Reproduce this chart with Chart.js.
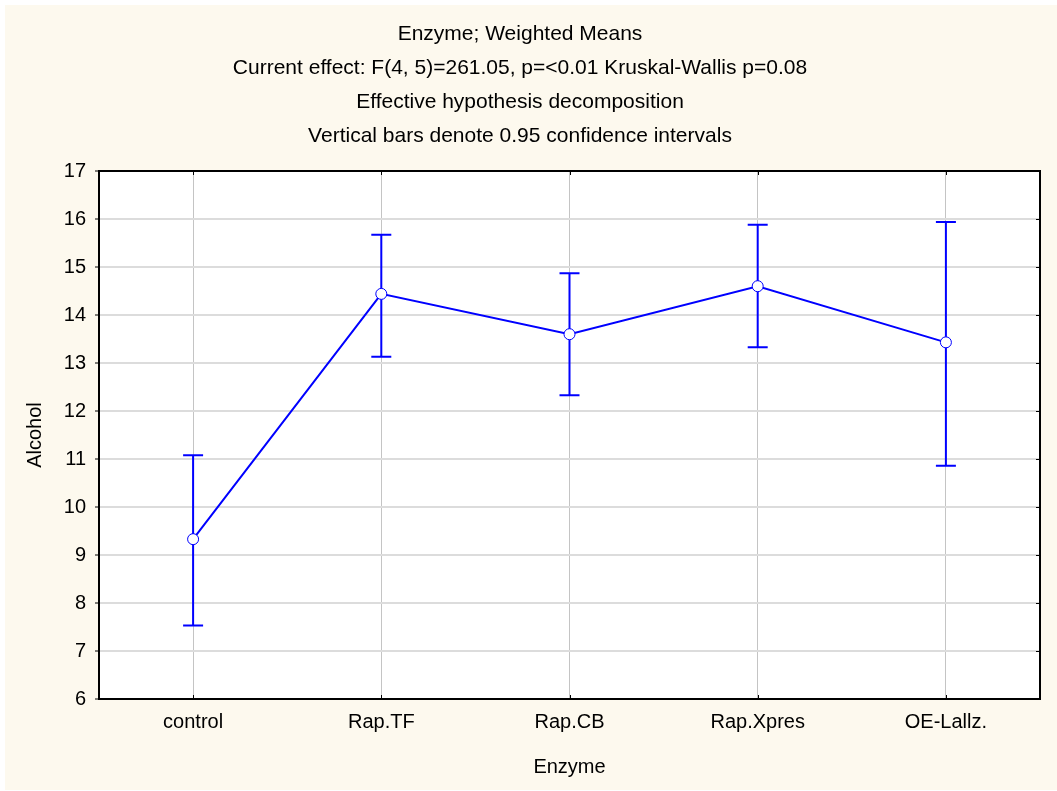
<!DOCTYPE html>
<html>
<head>
<meta charset="utf-8">
<script src="https://cdn.jsdelivr.net/npm/chart.js@4"></script>
<style>
  body { margin: 0; background: #fff; }
  #wrap { width: 1057px; height: 791px; position: relative; }
</style>
</head>
<body>
<div id="wrap"><canvas id="chart"></canvas></div>
<script>
// data
const categories = ['control', 'Rap.TF', 'Rap.CB', 'Rap.Xpres', 'OE-Lallz.'];
const means = [9.33, 14.44, 13.60, 14.60, 13.43];
const upper = [11.08, 15.67, 14.87, 15.88, 15.94];
const lower = [7.53, 13.13, 12.33, 13.33, 10.86];
const titleLines = [
    'Enzyme; Weighted Means',
    'Current effect: F(4, 5)=261.05, p=<0.01 Kruskal-Wallis p=0.08',
    'Effective hypothesis decomposition',
    'Vertical bars denote 0.95 confidence intervals'
];
const yTicks = [6, 7, 8, 9, 10, 11, 12, 13, 14, 15, 16, 17];

const FONT = 'Liberation Sans, Arial, sans-serif';
const BLUE = '#0000ff';

// cream page + white plot area
const background = {
    id: 'background',
    beforeDraw(chart) {
        const { ctx, chartArea: a, width, height } = chart;
        ctx.save();
        ctx.fillStyle = '#ffffff';
        ctx.fillRect(0, 0, width, height);
        ctx.fillStyle = '#fdf9ee';
        ctx.fillRect(5, 5, width - 5, height - 6);
        ctx.fillStyle = '#ffffff';
        ctx.fillRect(a.left, a.top, a.right - a.left, a.bottom - a.top);
        ctx.restore();
    }
};

// confidence interval whiskers
const errorBars = {
    id: 'errorBars',
    beforeDatasetsDraw(chart) {
        const { ctx, scales: { x, y } } = chart;
        ctx.save();
        ctx.strokeStyle = BLUE;
        ctx.lineWidth = 2;
        categories.forEach((c, i) => {
            const px = x.getPixelForValue(i);
            const top = y.getPixelForValue(upper[i]);
            const bot = y.getPixelForValue(lower[i]);
            ctx.beginPath();
            ctx.moveTo(px, top); ctx.lineTo(px, bot);
            ctx.moveTo(px - 10, top); ctx.lineTo(px + 10, top);
            ctx.moveTo(px - 10, bot); ctx.lineTo(px + 10, bot);
            ctx.stroke();
        });
        ctx.restore();
    }
};

// frame and inward ticks
const frame = {
    id: 'frame',
    afterDraw(chart) {
        const { ctx, chartArea: a, scales: { x, y } } = chart;
        ctx.save();
        ctx.strokeStyle = '#000';
        ctx.lineWidth = 1;
        ctx.beginPath();
        yTicks.forEach(v => {
            const py = Math.round(y.getPixelForValue(v)) + 0.5;
            ctx.moveTo(a.right, py); ctx.lineTo(a.right - 4, py);
        });
        categories.forEach((c, i) => {
            const px = Math.round(x.getPixelForValue(i)) + 0.5;
            ctx.moveTo(px, a.top); ctx.lineTo(px, a.top + 4);
            ctx.moveTo(px, a.bottom); ctx.lineTo(px, a.bottom - 4);
        });
        ctx.stroke();
        ctx.lineWidth = 2;
        ctx.strokeRect(a.left, a.top, a.right - a.left, a.bottom - a.top);
        ctx.restore();
    }
};

new Chart(document.getElementById('chart'), {
    type: 'line',
    data: {
        labels: categories,
        datasets: [{
            data: means,
            borderColor: BLUE,
            borderWidth: 2,
            tension: 0,
            pointRadius: 5.5,
            pointBorderWidth: 1,
            pointBackgroundColor: '#ffffff',
            pointBorderColor: BLUE
        }]
    },
    options: {
        responsive: true,
        maintainAspectRatio: false,
        animation: false,
        layout: { padding: { left: 0, right: 17, top: 0, bottom: 0 } },
        plugins: {
            legend: { display: false },
            tooltip: { enabled: false },
            title: {
                display: true,
                text: titleLines,
                color: '#000',
                font: { family: FONT, size: 21, weight: 'normal', lineHeight: '34px' },
                padding: { top: 17, bottom: 18 }
            }
        },
        scales: {
            x: {
                offset: true,
                afterFit: s => { s.height = 92; },
                grid: { offset: false, color: '#c4c4c4', lineWidth: 1, drawTicks: false },
                border: { display: false },
                ticks: { color: '#000', padding: 11, font: { family: FONT, size: 20 } },
                title: {
                    display: true, text: 'Enzyme', color: '#000',
                    font: { family: FONT, size: 20 },
                    padding: { top: 0, bottom: 12 }
                }
            },
            y: {
                min: 6,
                max: 17,
                afterFit: s => { s.width = 99; },
                afterBuildTicks: s => { s.ticks = yTicks.map(v => ({ value: v })); },
                grid: { color: '#dcdcdc', lineWidth: 2, tickLength: 4, tickColor: '#000', tickWidth: 1 },
                border: { display: false },
                ticks: { color: '#000', padding: 9, font: { family: FONT, size: 20 } },
                title: {
                    display: true, text: 'Alcohol', color: '#000',
                    font: { family: FONT, size: 20 },
                    padding: { top: 23, bottom: 0 }
                }
            }
        }
    },
    plugins: [background, errorBars, frame]
});
</script>
</body>
</html>
